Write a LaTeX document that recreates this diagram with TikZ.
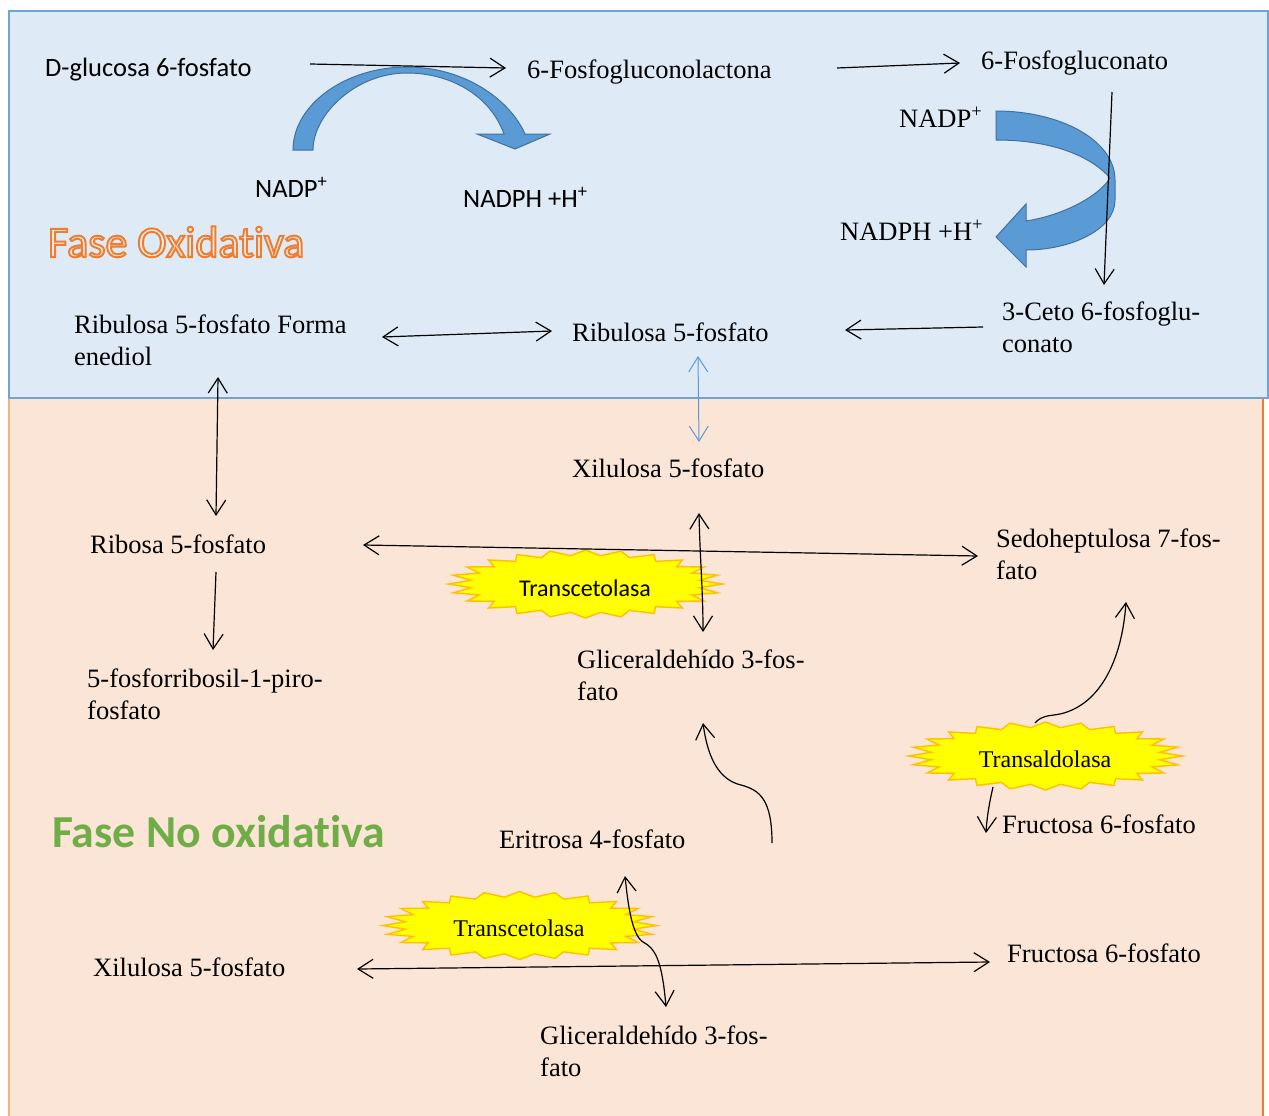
\documentclass[tikz,border=0pt]{standalone}
\usepackage{fontspec}
\setmainfont{Liberation Serif}
\newfontfamily\calfont[Ligatures=NoCommon]{Carlito}
\usetikzlibrary{arrows.meta}

\definecolor{oxfill}{HTML}{DEEBF7}
\definecolor{oxline}{HTML}{6FA3DA}
\definecolor{noxfill}{HTML}{FBE5D6}
\definecolor{noxline}{HTML}{F4B183}
\definecolor{noxedge}{HTML}{ED7D31}
\definecolor{blockblue}{HTML}{5B9BD5}
\definecolor{blockedge}{HTML}{41719C}
\definecolor{burstfill}{HTML}{FFFF00}
\definecolor{burstedge}{HTML}{FFC000}
\definecolor{titlegreen}{HTML}{70AD47}

% outlined lettering: light fill, orange stroke (PDF text render mode 2)
\newcommand\outlinedtext[1]{%
  \special{pdf:literal direct 0.929 0.490 0.192 RG 0.992 0.941 0.902 rg 2 w 2 Tr}%
  #1%
  \special{pdf:literal direct 0 Tr}}

% 24-point star stretched into an ellipse (enzyme badge)
\newcommand\enzymeburst[2]{%
  \filldraw[fill=burstfill, draw=burstedge, line width=1.4pt]
    plot[domain=0:47, samples=48]
      ({#1+137*(1-0.08*(1-cos(180*\x)))*cos(7.5*\x)},
       {#2+34*(1-0.08*(1-cos(180*\x)))*sin(7.5*\x)}) -- cycle;}

\begin{document}
\begin{tikzpicture}[x=1pt, y=-1pt,
  lbl/.style={inner sep=0pt, anchor=base west, align=left,
              font=\fontsize{26.5}{32}\selectfont},
  cal/.style={lbl, font=\calfont\fontsize{26.5}{32}\selectfont},
  enz/.style={inner sep=0pt, anchor=base, font=\fontsize{24}{28}\selectfont},
  tip/.tip={Straight Barb[length=15pt, width=19pt]},
  rxn/.style={line width=1.2pt, -tip},
  rev/.style={line width=1.2pt, tip-tip},
  block/.style={fill=blockblue, draw=blockedge, line width=1pt}]

\useasboundingbox (0,0) rectangle (1269,1116);
\fill[white] (0,0) rectangle (1269,1116);

% phase panels
\fill[noxfill] (9,398) rectangle (1263,1117);
\draw[noxline, line width=1.3pt] (9,398) -- (9,1117);
\draw[noxedge, line width=1.3pt] (1263,398) -- (1263,1117);
\filldraw[fill=oxfill, draw=oxline, line width=1.2pt] (9,11) rectangle (1268,398);

% curved cofactor arrows
\path[block]
  (293,150) .. controls (293,105) and (345,67) .. (407,67)
  .. controls (465,67) and (510,100) .. (525,134)
  -- (550,134) -- (515,149) -- (477,134) -- (504,134)
  .. controls (490,95) and (450,73) .. (407,73)
  .. controls (355,73) and (313,115) .. (313,150) -- cycle;
\path[block]
  (996,111) .. controls (1060,111) and (1115,140) .. (1115,180)
  -- (1115,200) .. controls (1115,230) and (1070,250) .. (1026,250)
  -- (1026,267) -- (996,237) -- (1026,204) -- (1026,221)
  .. controls (1065,215) and (1100,195) .. (1110,178)
  .. controls (1090,155) and (1050,140) .. (996,140) -- cycle;

% enzyme badges
\enzymeburst{585.5}{584}
\enzymeburst{1045.5}{756}
\enzymeburst{519.5}{925.5}
\node[enz, font=\calfont\fontsize{24}{28}\selectfont] (tk1) at (585,596) {Transcetolasa};
\node[enz] (ta) at (1045,767) {Transaldolasa};
\node[enz] (tk2) at (519,936) {Transcetolasa};

% phase titles
\node[inner sep=0pt, anchor=base west,
      font=\calfont\fontsize{44}{50}\selectfont] (oxtitle) at (48,257)
      {\outlinedtext{Fase Oxidativa}};
\node[inner sep=0pt, anchor=base west, text=titlegreen,
      font=\calfont\bfseries\fontsize{45.8}{52}\selectfont] (noxtitle) at (52,847) {Fase No oxidativa};

% metabolites (two-line labels are anchored on their last baseline)
\node[cal] (glc) at (45,77) {D-glucosa 6-fosfato};
\node[lbl] (lac) at (527,78) {6-Fosfogluconolactona};
\node[lbl] (pgn) at (981,70) {6-Fosfogluconato};
\node[cal] (nadpA) at (255,197) {NADP\textsuperscript{+}};
\node[cal] (nadphA) at (463,207) {NADPH +H\textsuperscript{+}};
\node[lbl] (nadpB) at (899,127) {NADP\textsuperscript{+}};
\node[lbl] (nadphB) at (840,240) {NADPH +H\textsuperscript{+}};
\node[lbl] (ruen) at (74,365) {Ribulosa 5-fosfato Forma\\enediol};
\node[lbl] (ru5p) at (572,341) {Ribulosa 5-fosfato};
\node[lbl] (keto) at (1002,352) {3-Ceto 6-fosfoglu-\\conato};
\node[lbl] (xu5pA) at (572,477) {Xilulosa 5-fosfato};
\node[lbl] (r5p) at (90,553) {Ribosa 5-fosfato};
\node[lbl] (s7p) at (996,579) {Sedoheptulosa 7-fos-\\fato};
\node[lbl] (g3pA) at (577,700) {Gliceraldehído 3-fos-\\fato};
\node[lbl] (prpp) at (87,719) {5-fosforribosil-1-piro-\\fosfato};
\node[lbl] (f6pA) at (1002,833) {Fructosa 6-fosfato};
\node[lbl] (e4p) at (499,848) {Eritrosa 4-fosfato};
\node[lbl] (xu5pB) at (93,976) {Xilulosa 5-fosfato};
\node[lbl] (f6pB) at (1007,962) {Fructosa 6-fosfato};
\node[lbl] (g3pB) at (540,1076) {Gliceraldehído 3-fos-\\fato};

% connector end points
\coordinate (glc-out) at (310,64);   \coordinate (lac-in) at (506,68);
\coordinate (lac-out) at (837,68);   \coordinate (pgn-in) at (960,63);
\coordinate (pgn-out) at (1112,92);  \coordinate (keto-in) at (1104,285);
\coordinate (keto-out) at (983,327); \coordinate (ru5p-in) at (845,330);
\coordinate (ruen-r) at (382,337);   \coordinate (ru5p-l) at (552,331);
\coordinate (ruen-b) at (218,377);   \coordinate (r5p-t) at (216,516);
\coordinate (ru5p-b) at (698,356);   \coordinate (xu5pA-t) at (699,442);
\coordinate (r5p-r) at (363,545);    \coordinate (s7p-l) at (978,556);
\coordinate (xu5pA-b) at (699,513);  \coordinate (g3pA-t) at (703,632);
\coordinate (r5p-b) at (216,572);    \coordinate (prpp-t) at (213,650);
\coordinate (e4p-r) at (772,843);    \coordinate (g3pA-b) at (703,723);
\coordinate (ta-t) at (1035,723);    \coordinate (s7p-b) at (1126,602);
\coordinate (ta-b) at (993,787);     \coordinate (f6pA-l) at (986,833);
\coordinate (xu5pB-r) at (357,969);  \coordinate (f6pB-l) at (990,962);
\coordinate (e4p-b) at (625,876);    \coordinate (g3pB-t) at (666,1007);

% oxidative branch
\draw[rxn] (glc-out) -- (lac-in);
\draw[rxn] (lac-out) -- (pgn-in);
\draw[rxn] (pgn-out) -- (keto-in);
\draw[rxn] (keto-out) -- (ru5p-in);
\draw[rev] (ruen-r) -- (ru5p-l);
\draw[rev] (ruen-b) -- (r5p-t);
\draw[rev, draw=blockblue, line width=1pt] (ru5p-b) -- (xu5pA-t);

% non-oxidative branch
\draw[rev] (r5p-r) -- (s7p-l);
\draw[rev] (xu5pA-b) .. controls (700,560) and (703,590) .. (g3pA-t);
\draw[rxn] (r5p-b) -- (prpp-t);
\draw[rxn] (e4p-r) .. controls (772,800) and (760,790) .. (741,785)
               .. controls (720,780) and (708,760) .. (g3pA-b);
\draw[rxn] (ta-t) .. controls (1042,715) and (1050,716) .. (1060,714)
              .. controls (1100,705) and (1122,660) .. (s7p-b);
\draw[rxn] (ta-b) .. controls (990,800) and (987,815) .. (f6pA-l);
\draw[rev] (xu5pB-r) -- (f6pB-l);
\draw[rev] (e4p-b) .. controls (628,905) and (632,935) .. (643,942)
               .. controls (655,948) and (662,960) .. (g3pB-t);
\end{tikzpicture}
\end{document}
